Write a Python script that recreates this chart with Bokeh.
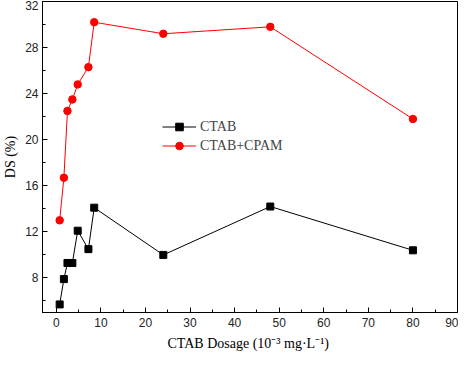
from bokeh.plotting import figure
from bokeh.models import Range1d, SingleIntervalTicker, Legend, LegendItem
from bokeh.embed import file_html
from bokeh.resources import INLINE

dosage = [0.75, 1.7, 2.5, 3.6, 4.8, 7.2, 8.5, 24, 48, 80]
ds_ctab = [5.7, 7.9, 9.3, 9.3, 12.1, 10.5, 14.1, 10.0, 14.2, 10.4]
ds_ctab_cpam = [13.0, 16.7, 22.5, 23.5, 24.8, 26.3, 30.2, 29.2, 29.8, 21.8]
series_names = ["CTAB", "CTAB+CPAM"]
x_label = "CTAB  Dosage (10\u207b\u00b3 mg\u00b7L\u207b\u00b9)"
y_label = "DS (%)"

p = figure(width=458, height=354, output_backend="svg", toolbar_location=None,
           x_range=Range1d(-3.1, 90), y_range=Range1d(5, 32),
           min_border_left=35, min_border_top=1, min_border_right=1, min_border_bottom=42)
p.grid.visible = False
p.background_fill_color = "white"
p.border_fill_color = "white"
p.outline_line_color = "black"
p.outline_line_width = 1

l1 = p.line(dosage, ds_ctab, color="black", line_width=1)
m1 = p.scatter(dosage, ds_ctab, marker="square", size=7, color="black")
l2 = p.line(dosage, ds_ctab_cpam, color="#ff0000", line_width=1)
m2 = p.scatter(dosage, ds_ctab_cpam, marker="circle", size=7.5, color="#ff0000")

p.xaxis.ticker = SingleIntervalTicker(interval=10, num_minor_ticks=2)
p.yaxis.ticker = SingleIntervalTicker(interval=4, num_minor_ticks=2)
for ax in (p.xaxis[0], p.yaxis[0]):
    ax.axis_line_color = "black"
    ax.major_tick_line_color = "black"
    ax.minor_tick_line_color = "black"
    ax.major_tick_in = 5
    ax.major_tick_out = 0
    ax.minor_tick_in = 3
    ax.minor_tick_out = 0
    ax.major_label_text_font = "Liberation Sans"
    ax.major_label_text_font_size = "12px"
    ax.major_label_text_color = "#222222"
    ax.axis_label_text_font = "Liberation Serif"
    ax.axis_label_text_font_size = "14px"
    ax.axis_label_text_font_style = "normal"
    ax.axis_label_text_color = "black"
p.xaxis.axis_label = x_label
p.yaxis.axis_label = y_label
p.xaxis.major_label_standoff = 5
p.xaxis.axis_label_standoff = 6
p.yaxis.major_label_standoff = 4
p.yaxis.axis_label_standoff = 4

legend = Legend(items=[LegendItem(label=series_names[0], renderers=[l1, m1]),
                       LegendItem(label=series_names[1], renderers=[l2, m2])],
                location=(120, 157))
legend.border_line_color = None
legend.background_fill_alpha = 0
legend.label_text_font = "Liberation Serif"
legend.label_text_font_size = "14px"
legend.glyph_width = 34
legend.glyph_height = 19
legend.label_height = 19
legend.spacing = 0
legend.padding = 0
legend.margin = 0
legend.label_standoff = 4
p.add_layout(legend, "center")

open("out.html", "w").write(file_html(p, INLINE))
